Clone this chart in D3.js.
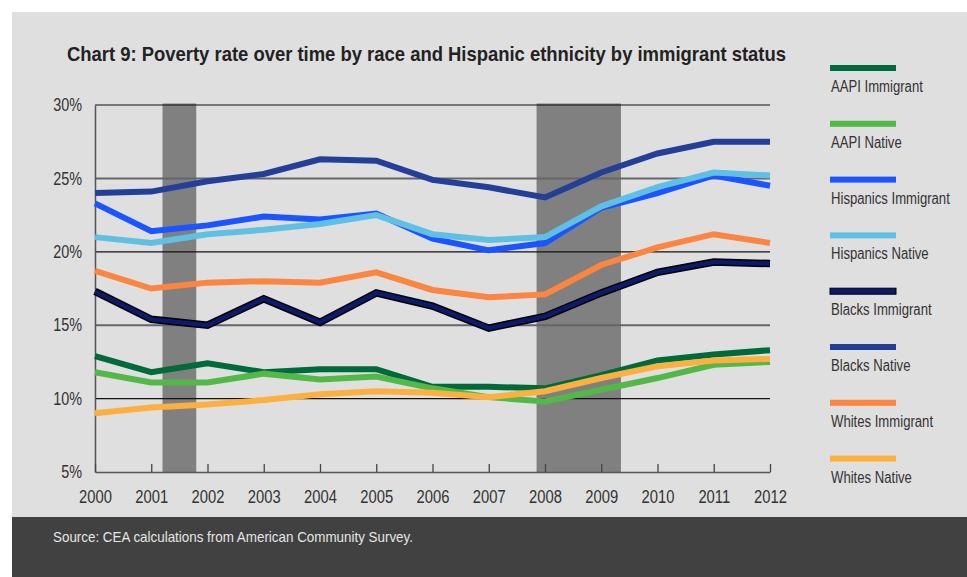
<!DOCTYPE html>
<html><head><meta charset="utf-8">
<script src="https://cdn.jsdelivr.net/npm/d3@7"></script>
<style>
html,body{margin:0;padding:0;background:#fff;}
svg{display:block;}
</style></head>
<body>
<script>
const years = [2000,2001,2002,2003,2004,2005,2006,2007,2008,2009,2010,2011,2012];
const seriesNames = ["AAPI Immigrant","AAPI Native","Hispanics Immigrant","Hispanics Native","Blacks Immigrant","Blacks Native","Whites Immigrant","Whites Native"];
const aapiImmigrant      = [12.9,11.8,12.4,11.8,12.0,12.0,10.8,10.8,10.7,11.6,12.6,13.0,13.3];
const aapiNative         = [11.8,11.1,11.1,11.7,11.3,11.5,10.7,10.1, 9.8,10.6,11.4,12.3,12.5];
const hispanicsImmigrant = [23.3,21.4,21.8,22.4,22.2,22.6,20.9,20.1,20.6,23.0,24.0,25.2,24.5];
const hispanicsNative    = [21.0,20.6,21.2,21.5,21.9,22.5,21.2,20.8,21.0,23.1,24.4,25.4,25.2];
const blacksImmigrant    = [17.3,15.4,15.0,16.8,15.2,17.2,16.3,14.8,15.6,17.2,18.6,19.3,19.2];
const blacksNative       = [24.0,24.1,24.8,25.3,26.3,26.2,24.9,24.4,23.7,25.4,26.7,27.5,27.5];
const whitesImmigrant    = [18.7,17.5,17.9,18.0,17.9,18.6,17.4,16.9,17.1,19.1,20.3,21.2,20.6];
const whitesNative       = [ 9.0, 9.4, 9.6, 9.9,10.3,10.5,10.4,10.1,10.5,11.4,12.2,12.6,12.7];
const seriesValues = [aapiImmigrant,aapiNative,hispanicsImmigrant,hispanicsNative,blacksImmigrant,blacksNative,whitesImmigrant,whitesNative];
const seriesColors = ["#006b3a","#52b848","#1a55ff","#5fc0e4","#0b1a6b","#233f97","#fb8541","#fbb040"];
const yTicks = [5,10,15,20,25,30];
const recessions = [[2001.2,2001.8],[2007.85,2009.35]];
const titleText = "Chart 9: Poverty rate over time by race and Hispanic ethnicity by immigrant status";
const sourceText = "Source: CEA calculations from American Community Survey.";

const W = 967, H = 577;
const FONT = "'Liberation Sans',Arial,sans-serif";
const svg = d3.select("body").append("svg").attr("width", W).attr("height", H);

// squeeze text horizontally to mimic a condensed face
function condense(sel, f) {
  sel.each(function(){
    const len = this.getComputedTextLength();
    d3.select(this).attr("textLength", len*f).attr("lengthAdjust","spacingAndGlyphs");
  });
}

// backgrounds
svg.append("rect").attr("x",12).attr("y",12).attr("width",W-12).attr("height",505).attr("fill","#dfdfdf");
svg.append("rect").attr("x",12).attr("y",517).attr("width",W-12).attr("height",H-517).attr("fill","#414141");

const x = d3.scaleLinear().domain([2000,2012]).range([95,770]);
const y = d3.scaleLinear().domain([5,30]).range([472,105]);

// title
svg.append("text").attr("x",67).attr("y",61)
  .attr("font-family",FONT).attr("font-weight","bold").attr("font-size",21)
  .attr("fill","#222").attr("textLength",719).attr("lengthAdjust","spacingAndGlyphs").text(titleText);

// recession bars
svg.append("g").selectAll("rect").data(recessions).join("rect")
  .attr("x",d=>x(d[0])).attr("width",d=>x(d[1])-x(d[0]))
  .attr("y",y(30)-1.5).attr("height",y(5)-y(30)+1.5)
  .attr("fill","#808080");

// gridlines
svg.append("g").selectAll("line").data(yTicks.filter(v=>v>5)).join("line")
  .attr("x1",x(2000)).attr("x2",x(2012))
  .attr("y1",d=>y(d)).attr("y2",d=>y(d))
  .attr("stroke",d=>d%10===0?"#111":"#666")
  .attr("stroke-width",d=>d%10===0?1.2:2);

// y axis
const yAxis = svg.append("g").attr("transform",`translate(${x(2000)},0)`)
  .call(d3.axisLeft(y).tickValues(yTicks).tickSize(0).tickPadding(13).tickFormat(d=>d+"%"));
yAxis.select(".domain").attr("stroke","#555").attr("stroke-width",1.5);
yAxis.selectAll("text").attr("font-family",FONT).attr("font-size",18).attr("fill","#333").call(condense,0.8);

// x axis
const xAxis = svg.append("g").attr("transform",`translate(0,${y(5)})`)
  .call(d3.axisBottom(x).tickValues(years).tickSizeInner(-8).tickSizeOuter(0).tickPadding(18).tickFormat(d3.format("d")));
xAxis.select(".domain").attr("stroke","#555").attr("stroke-width",1.5);
xAxis.selectAll(".tick line").attr("stroke","#444").attr("stroke-width",1.3);
xAxis.selectAll("text").attr("font-family",FONT).attr("font-size",18).attr("fill","#333").call(condense,0.82);

// lines
const line = d3.line().x((d,i)=>x(years[i])).y(d=>y(d));
const lg = svg.append("g").attr("fill","none");
seriesValues.forEach((vals,k)=>{
  if (seriesNames[k]==="Blacks Immigrant") {
    lg.append("path").attr("d",line(vals)).attr("stroke","#000").attr("stroke-width",7.5);
    lg.append("path").attr("d",line(vals)).attr("stroke",seriesColors[k]).attr("stroke-width",4.5);
  } else {
    lg.append("path").attr("d",line(vals)).attr("stroke",seriesColors[k]).attr("stroke-width",6);
  }
});

// legend
const leg = svg.append("g");
seriesNames.forEach((name,k)=>{
  const cy = 68 + k*55.8;
  const r = leg.append("rect").attr("x",830).attr("y",cy-3).attr("width",66).attr("height",6).attr("fill",seriesColors[k]);
  if (name==="Blacks Immigrant") r.attr("stroke","#000").attr("stroke-width",1);
  leg.append("text").attr("x",0).attr("y",0)
    .attr("transform",`translate(831,${cy+24}) scale(0.82,1)`)
    .attr("font-family",FONT).attr("font-size",16).attr("fill","#333").text(name);
});

// source
svg.append("text").attr("x",53).attr("y",542)
  .attr("font-family",FONT).attr("font-size",15).attr("fill","#e6e6e6")
  .attr("textLength",360).attr("lengthAdjust","spacingAndGlyphs").text(sourceText);
</script>
</body></html>
